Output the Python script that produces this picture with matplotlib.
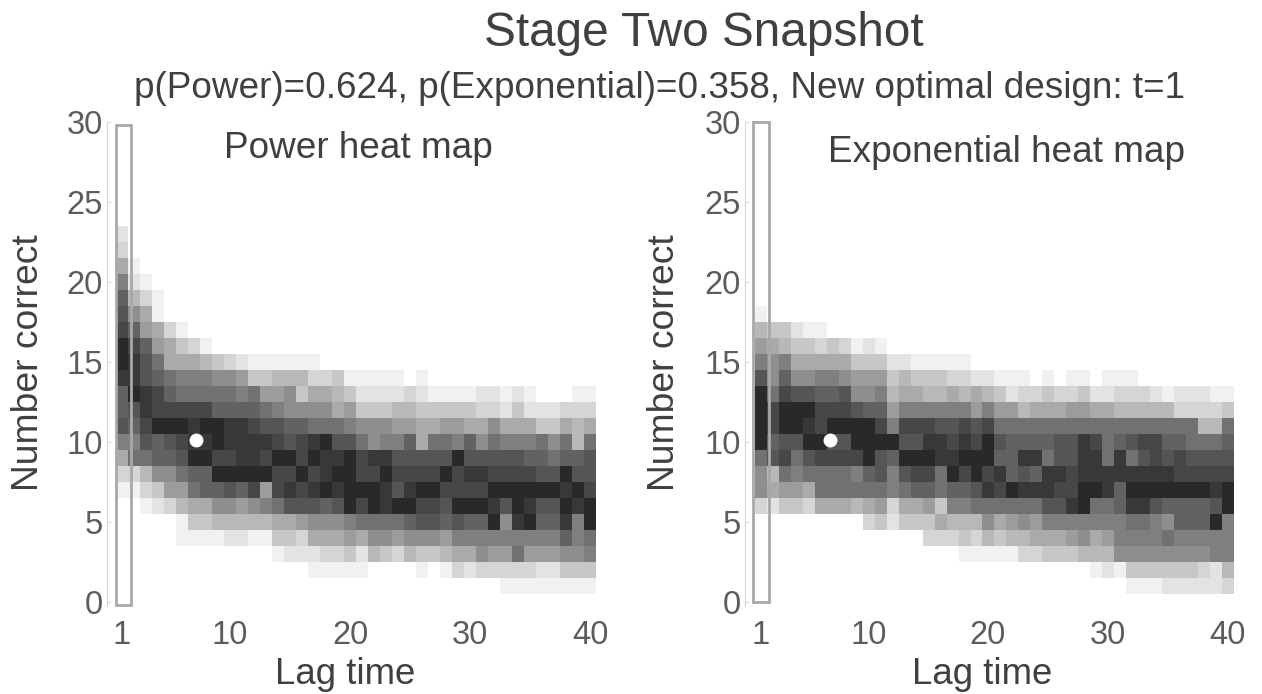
#!/usr/bin/env python3
"""Stage Two Snapshot - power and exponential heat maps"""

import matplotlib
matplotlib.use('Agg')
import matplotlib.pyplot as plt
from matplotlib.patches import Rectangle
import numpy as np

plt.rcParams['font.family'] = ['Liberation Sans', 'DejaVu Sans']

W, H = 1262, 694

lag_ticks = [1, 10, 20, 30, 40]
correct_ticks = [0, 5, 10, 15, 20, 25, 30]

# darkness per cell, one hex digit per lag (1..40), rows from number correct = 0 upwards
power_rows = [
    "00000000000000000000" "0000000000" "0000000000",
    "00000000000000000000" "0000000000" "0011111111",
    "00000000000000001111" "1000010132" "3333322444",
    "00000000000001222334" "2543544566" "877a777889",
    "00000111122114436667" "6887888799" "9999999b9a",
    "00000144555556678889" "aaaabccbcb" "bf8efbbe9f",
    "0012356688789acccbcf" "dfeffddcff" "fecfeccfef",
    "113477abbcbd7dedefef" "ffeceffddd" "dffffffefd",
    "33588abbfffffddfdeff" "ddfddddfde" "eddddccfcc",
    "6aabbcffddeedffdfeef" "deecccccfc" "ccccbbabbc",
    "99cbcdeefeeeedcdefcc" "a899b6aa9b" "8a999a8a5a",
    "cbdfffeffeedccbbaaa9" "8887766776" "6866644656",
    "bcedddddbbbba9888867" "4445544444" "3324222333",
    "bfedbaaaaa9a77846654" "2222321111" "2212100011",
    "eecba999887445553341" "1111010000" "0000000000",
    "feca6665432111111000" "0000000000" "0000000000",
    "fdb76431000000000000" "0000000000" "0000000000",
    "db763100000000000000" "0000000000" "0000000000",
    "c8610000000000000000" "0000000000" "0000000000",
    "b5310000000000000000" "0000000000" "0000000000",
    "92100000000000000000" "0000000000" "0000000000",
    "61000000000000000000" "0000000000" "0000000000",
    "30000000000000000000" "0000000000" "0000000000",
    "20000000000000000000" "0000000000" "0000000000",
]

exponential_rows = [
    "00000000000000000000" "0000000000" "0000000000",
    "00000000000000000000" "0000000000" "0111222223",
    "00000000000000000000" "0000000012" "1444444325",
    "00000000000000000111" "1133444555" "8888888899",
    "00000000000000333435" "4556667867" "9999a99999",
    "00000000034244465558" "6787999999" "9aa98bbbf9",
    "324436665673667499aa" "aaaaccefaa" "beecbbbbcf",
    "86776aaaaaa9abbabbce" "dfeeeddffe" "bfffffffef",
    "85a9aaaa9bc9cddafdfd" "ebcbeedeee" "eeeeeddddd",
    "acdacddddfcbfffeefff" "bbeeacceea" "eacdcdcccc",
    "fbccffccffffcceededf" "cbbbbcceda" "bcddbbaaab",
    "fdffedffffd9dddccdcd" "aaaaaaaaaa" "aaaaaaa55a",
    "fdfffdddcbb799999979" "7756667766" "5555533334",
    "fadccbbc889566556565" "4233433422" "3332122211",
    "c8b88998777454443322" "1110101101" "1100000000",
    "98966666444221111100" "0000000000" "0000000000",
    "76544343121000000000" "0000000000" "0000000000",
    "54421100000000000000" "0000000000" "0000000000",
    "10000000000000000000" "0000000000" "0000000000",
]

# last sampled design point
power_point = (7.2, 10.1)
exponential_point = (6.8, 10.1)

TEXT_COLOR = '#404040'


def to_grid(rows):
    grid = np.zeros((31, 40))
    for k, row in enumerate(rows):
        grid[k] = [int(c, 16) for c in row]
    return grid


def panel(left, right, top, bottom, x_left, rows, point, box, label, label_xy,
          xlabel_x, ylabel_x):
    ax = fig.add_axes([left / W, 1 - bottom / H, (right - left) / W, (bottom - top) / H])
    ax.imshow(to_grid(rows), cmap='gray_r', vmin=0, vmax=18, origin='lower',
              extent=[0.5, 40.5, -0.5, 30.5], aspect='auto', interpolation='nearest')
    ax.set_xlim(x_left, 40.5)
    ax.set_ylim(-0.25, 30)
    ax.add_patch(Rectangle((box[0], box[1]), box[2], box[3], fill=False,
                           edgecolor='#a8a8a8', linewidth=2.0, clip_on=False, zorder=3))
    ax.plot([point[0]], [point[1]], 'o', color='white', markersize=10,
            markeredgecolor='none', zorder=4)
    ax.set_xticks(lag_ticks)
    ax.set_yticks(correct_ticks)
    ax.tick_params(axis='both', labelsize=23.5, colors='#dddddd', labelcolor='#5c5c5c',
                   length=3, width=0.8, direction='in', pad=3)
    ax.tick_params(axis='x', pad=10, length=0)
    for side in ['top', 'right', 'bottom']:
        ax.spines[side].set_visible(False)
    ax.spines['left'].set_color('#d4d4d4')
    fig.text(label_xy[0] / W, 1 - label_xy[1] / H, label, fontsize=26.6, color=TEXT_COLOR,
             ha='center', va='center')
    fig.text(xlabel_x / W, 1 - 674 / H, 'Lag time', fontsize=26.4, color=TEXT_COLOR,
             ha='center', va='center')
    fig.text(ylabel_x / W, 1 - 363 / H, 'Number correct', fontsize=26.8, color=TEXT_COLOR,
             ha='center', va='center', rotation=90)
    return ax


fig = plt.figure(figsize=(W / 100, H / 100), dpi=100)
fig.patch.set_facecolor('white')

fig.text(704 / W, 1 - 34 / H, 'Stage Two Snapshot', fontsize=34.4, color=TEXT_COLOR,
         ha='center', va='center')
fig.text(659 / W, 1 - 89 / H,
         'p(Power)=0.624, p(Exponential)=0.358, New optimal design: t=1',
         fontsize=26.6, color=TEXT_COLOR, ha='center', va='center')

panel(107, 596, 122, 606, -0.25, power_rows, power_point,
      (0.5, -0.19, 1.25, 30.0), 'Power heat map', (358, 148), 345, 29)
panel(745, 1233, 122, 606, -0.33, exponential_rows, exponential_point,
      (0.33, 0.0, 1.33, 30.0), 'Exponential heat map', (1006, 153), 982, 665)

plt.savefig('out.png', dpi=100, facecolor='white')
